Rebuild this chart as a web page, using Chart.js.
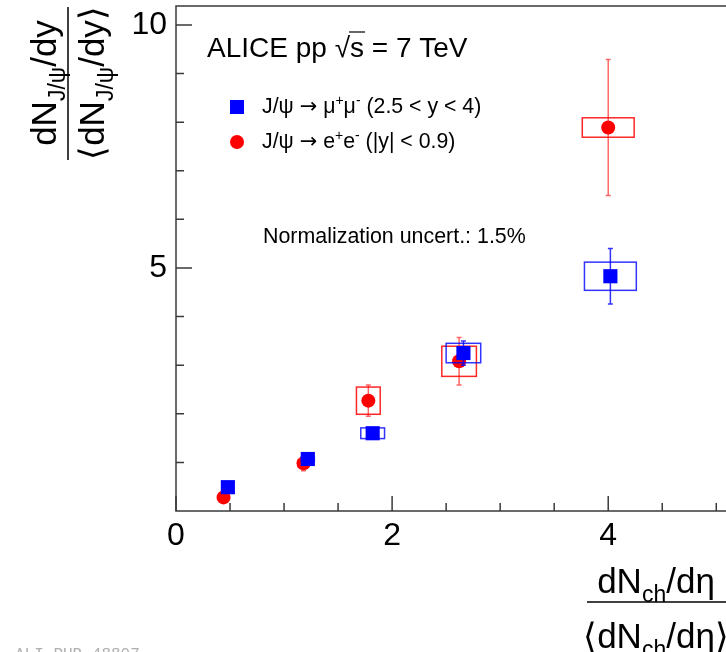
<!DOCTYPE html>
<html><head><meta charset="utf-8">
<script src="https://cdn.jsdelivr.net/npm/chart.js@4/dist/chart.umd.min.js"></script>
<style>html,body{margin:0;padding:0;background:#fff;overflow:hidden}canvas{display:block}</style>
</head><body>
<canvas id="c" width="726" height="652"></canvas>
<script>
// J/psi -> mu+mu- (2.5 < y < 4)
const muX    = [0.48, 1.22, 1.82, 2.66, 4.02];
const muY    = [0.49, 1.07, 1.60, 3.25, 4.83];
const muStat = [0.05, 0.06, 0.08, 0.25, 0.57];
const muSysX = [0.05, 0.06, 0.11, 0.16, 0.24];
const muSysY = [0.03, 0.05, 0.11, 0.20, 0.29];
// J/psi -> e+e- (|y| < 0.9)
const eeX    = [0.44, 1.18, 1.78, 2.62, 4.00];
const eeY    = [0.28, 0.98, 2.27, 3.08, 7.89];
const eeStat = [0.10, 0.15, 0.32, 0.49, 1.40];
const eeSysX = [0.04, 0.05, 0.11, 0.16, 0.24];
const eeSysY = [0.03, 0.07, 0.28, 0.31, 0.20];
// axis ticks
const xTickLabels = [0, 2, 4];
const xMinorTicks = [0.5, 1, 1.5, 2.5, 3, 3.5, 4.5, 5];
const yTickLabels = [5, 10];
const yMinorTicks = [1, 2, 3, 4, 6, 7, 8, 9];

const FONT = "'Liberation Sans', Arial, Helvetica, sans-serif";
const DJ = "'DejaVu Sans', sans-serif";
const series = [
  {x: muX, y: muY, stat: muStat, sx: muSysX, sy: muSysY, box: 'rgba(0,0,255,0.8)', bar: 'rgba(0,0,255,0.8)'},
  {x: eeX, y: eeY, stat: eeStat, sx: eeSysX, sy: eeSysY, box: 'rgba(255,0,0,0.85)', bar: 'rgba(255,0,0,0.6)'}
];

function drawRich(ctx, segs, x, y, align) {
  let w = 0;
  segs.forEach(s => { ctx.font = s.size + 'px ' + (s.f || FONT); w += ctx.measureText(s.t).width; });
  let cx = align === 'center' ? x - w / 2 : x;
  ctx.textBaseline = 'alphabetic';
  ctx.textAlign = 'left';
  segs.forEach(s => {
    ctx.font = s.size + 'px ' + (s.f || FONT);
    ctx.fillText(s.t, cx, y + (s.dy || 0));
    cx += ctx.measureText(s.t).width;
  });
  return w;
}

const rootPlugin = {
  id: 'rootStyle',
  beforeDatasetsDraw(chart) {
    const ctx = chart.ctx, a = chart.chartArea, xs = chart.scales.x, ys = chart.scales.y;
    ctx.save();
    ctx.strokeStyle = '#3a3a3a';
    ctx.lineWidth = 1.5;
    ctx.beginPath();
    ctx.moveTo(a.right + 2, a.top); ctx.lineTo(a.left, a.top); ctx.lineTo(a.left, a.bottom); ctx.lineTo(a.right + 2, a.bottom);
    ctx.stroke();
    ctx.beginPath();
    xTickLabels.forEach(v => { const p = xs.getPixelForValue(v); ctx.moveTo(p, a.bottom); ctx.lineTo(p, a.bottom - 15); });
    xMinorTicks.forEach(v => { const p = xs.getPixelForValue(v); ctx.moveTo(p, a.bottom); ctx.lineTo(p, a.bottom - 8); });
    yTickLabels.forEach(v => { const p = ys.getPixelForValue(v); ctx.moveTo(a.left, p); ctx.lineTo(a.left + 16, p); });
    yMinorTicks.forEach(v => { const p = ys.getPixelForValue(v); ctx.moveTo(a.left, p); ctx.lineTo(a.left + 8, p); });
    ctx.stroke();
    ctx.restore();
  },
  beforeDatasetDraw(chart, args) {
    const s = series[args.index];
    const ctx = chart.ctx, xs = chart.scales.x, ys = chart.scales.y;
    ctx.save();
    for (let i = 0; i < s.x.length; i++) {
      const x0 = xs.getPixelForValue(s.x[i] - s.sx[i]), x1 = xs.getPixelForValue(s.x[i] + s.sx[i]);
      const y0 = ys.getPixelForValue(s.y[i] + s.sy[i]), y1 = ys.getPixelForValue(s.y[i] - s.sy[i]);
      ctx.strokeStyle = s.box; ctx.lineWidth = 1.5;
      ctx.strokeRect(x0, y0, x1 - x0, y1 - y0);
      const px = xs.getPixelForValue(s.x[i]);
      const t = ys.getPixelForValue(s.y[i] + s.stat[i]), b = ys.getPixelForValue(s.y[i] - s.stat[i]);
      ctx.strokeStyle = s.bar; ctx.lineWidth = 1.5;
      ctx.beginPath();
      ctx.moveTo(px, t); ctx.lineTo(px, b);
      ctx.moveTo(px - 2.5, t); ctx.lineTo(px + 2.5, t);
      ctx.moveTo(px - 2.5, b); ctx.lineTo(px + 2.5, b);
      ctx.stroke();
    }
    ctx.restore();
  },
  afterDraw(chart) {
    const ctx = chart.ctx;
    ctx.save();
    ctx.fillStyle = '#000';
    // header
    const pre = 'ALICE pp ';
    drawRich(ctx, [{t: pre + '\u221As = 7 TeV', size: 28}], 207, 57);
    ctx.font = '28px ' + FONT;
    const wPre = ctx.measureText(pre + '\u221A').width, wS = ctx.measureText('s').width;
    ctx.strokeStyle = '#000'; ctx.lineWidth = 1.2;
    ctx.beginPath(); ctx.moveTo(207 + wPre - 1, 32); ctx.lineTo(207 + wPre + wS + 1, 32); ctx.stroke();
    // legend
    ctx.fillStyle = '#0000ff'; ctx.fillRect(230, 100, 14, 14);
    ctx.fillStyle = '#ff0000'; ctx.beginPath(); ctx.arc(237, 142, 7, 0, Math.PI * 2); ctx.fill();
    ctx.fillStyle = '#000';
    drawRich(ctx, [{t: 'J/\u03C8 ', size: 21.3}, {t: '\u2192', size: 21, f: DJ}, {t: ' \u03BC', size: 21.3}, {t: '+', size: 14, dy: -8}, {t: '\u03BC', size: 21.3}, {t: '-', size: 14, dy: -8}, {t: ' (2.5 < y < 4)', size: 21.3}], 262, 113);
    drawRich(ctx, [{t: 'J/\u03C8 ', size: 21.3}, {t: '\u2192', size: 21, f: DJ}, {t: ' e', size: 21.3}, {t: '+', size: 14, dy: -8}, {t: 'e', size: 21.3}, {t: '-', size: 14, dy: -8}, {t: ' (|y| < 0.9)', size: 21.3}], 262, 148);
    // normalization
    drawRich(ctx, [{t: 'Normalization uncert.: 1.5%', size: 21.4}], 263, 243);
    // y title (rotated)
    ctx.save();
    ctx.rotate(-Math.PI / 2);
    drawRich(ctx, [{t: 'dN', size: 35}, {t: 'J/\u03C8', size: 23, dy: 9}, {t: '/dy', size: 35}], -83, 56, 'center');
    drawRich(ctx, [{t: '\u27E8dN', size: 35}, {t: 'J/\u03C8', size: 23, dy: 9}, {t: '/dy\u27E9', size: 35}], -83, 104, 'center');
    ctx.restore();
    ctx.strokeStyle = '#000'; ctx.lineWidth = 1.5;
    ctx.beginPath(); ctx.moveTo(68, 7); ctx.lineTo(68, 160); ctx.stroke();
    // x title
    drawRich(ctx, [{t: 'dN', size: 35}, {t: 'ch', size: 23, dy: 9}, {t: '/d\u03B7', size: 35}], 656, 593, 'center');
    drawRich(ctx, [{t: '\u27E8dN', size: 35}, {t: 'ch', size: 23, dy: 9}, {t: '/d\u03B7\u27E9', size: 35}], 656, 648, 'center');
    ctx.beginPath(); ctx.moveTo(587, 602); ctx.lineTo(730, 602); ctx.stroke();
    // watermark
    ctx.fillStyle = '#b0b0b0';
    ctx.font = "16px 'Liberation Mono', monospace";
    ctx.fillText('ALI-PUB-48807', 15, 659);
    ctx.restore();
  }
};

new Chart(document.getElementById('c'), {
  type: 'scatter',
  data: {
    datasets: [
      {label: 'mumu', data: muX.map((v, i) => ({x: v, y: muY[i]})), pointStyle: 'rect', pointRadius: 10, backgroundColor: '#0000ff', borderWidth: 0},
      {label: 'ee', data: eeX.map((v, i) => ({x: v, y: eeY[i]})), pointStyle: 'circle', pointRadius: 7, backgroundColor: '#ff0000', borderWidth: 0}
    ]
  },
  options: {
    responsive: false,
    animation: false,
    events: [],
    layout: {autoPadding: false, padding: {left: 0, top: 6, right: 0, bottom: 0}},
    plugins: {legend: {display: false}, tooltip: {enabled: false}},
    scales: {
      x: {
        type: 'linear', min: 0, max: 5.09,
        grid: {display: false, drawTicks: false, tickLength: 0},
        border: {display: false},
        afterBuildTicks: s => { s.ticks = xTickLabels.map(v => ({value: v})); },
        afterFit: s => { s.height = 141; s.paddingLeft = 0; s.paddingRight = 0; s.paddingTop = 0; s.paddingBottom = 0; },
        ticks: {font: {size: 32, family: FONT}, color: '#000', padding: 6, maxRotation: 0, autoSkip: false}
      },
      y: {
        type: 'linear', min: 0, max: 10.39,
        grid: {display: false, drawTicks: false, tickLength: 0},
        border: {display: false},
        afterBuildTicks: s => { s.ticks = yTickLabels.map(v => ({value: v})); },
        afterFit: s => { s.width = 176; s.paddingTop = 0; s.paddingBottom = 0; s.paddingLeft = 0; s.paddingRight = 0; },
        ticks: {font: {size: 32, family: FONT}, color: '#000', padding: 9, autoSkip: false}
      }
    }
  },
  plugins: [rootPlugin]
});
</script>
</body></html>
